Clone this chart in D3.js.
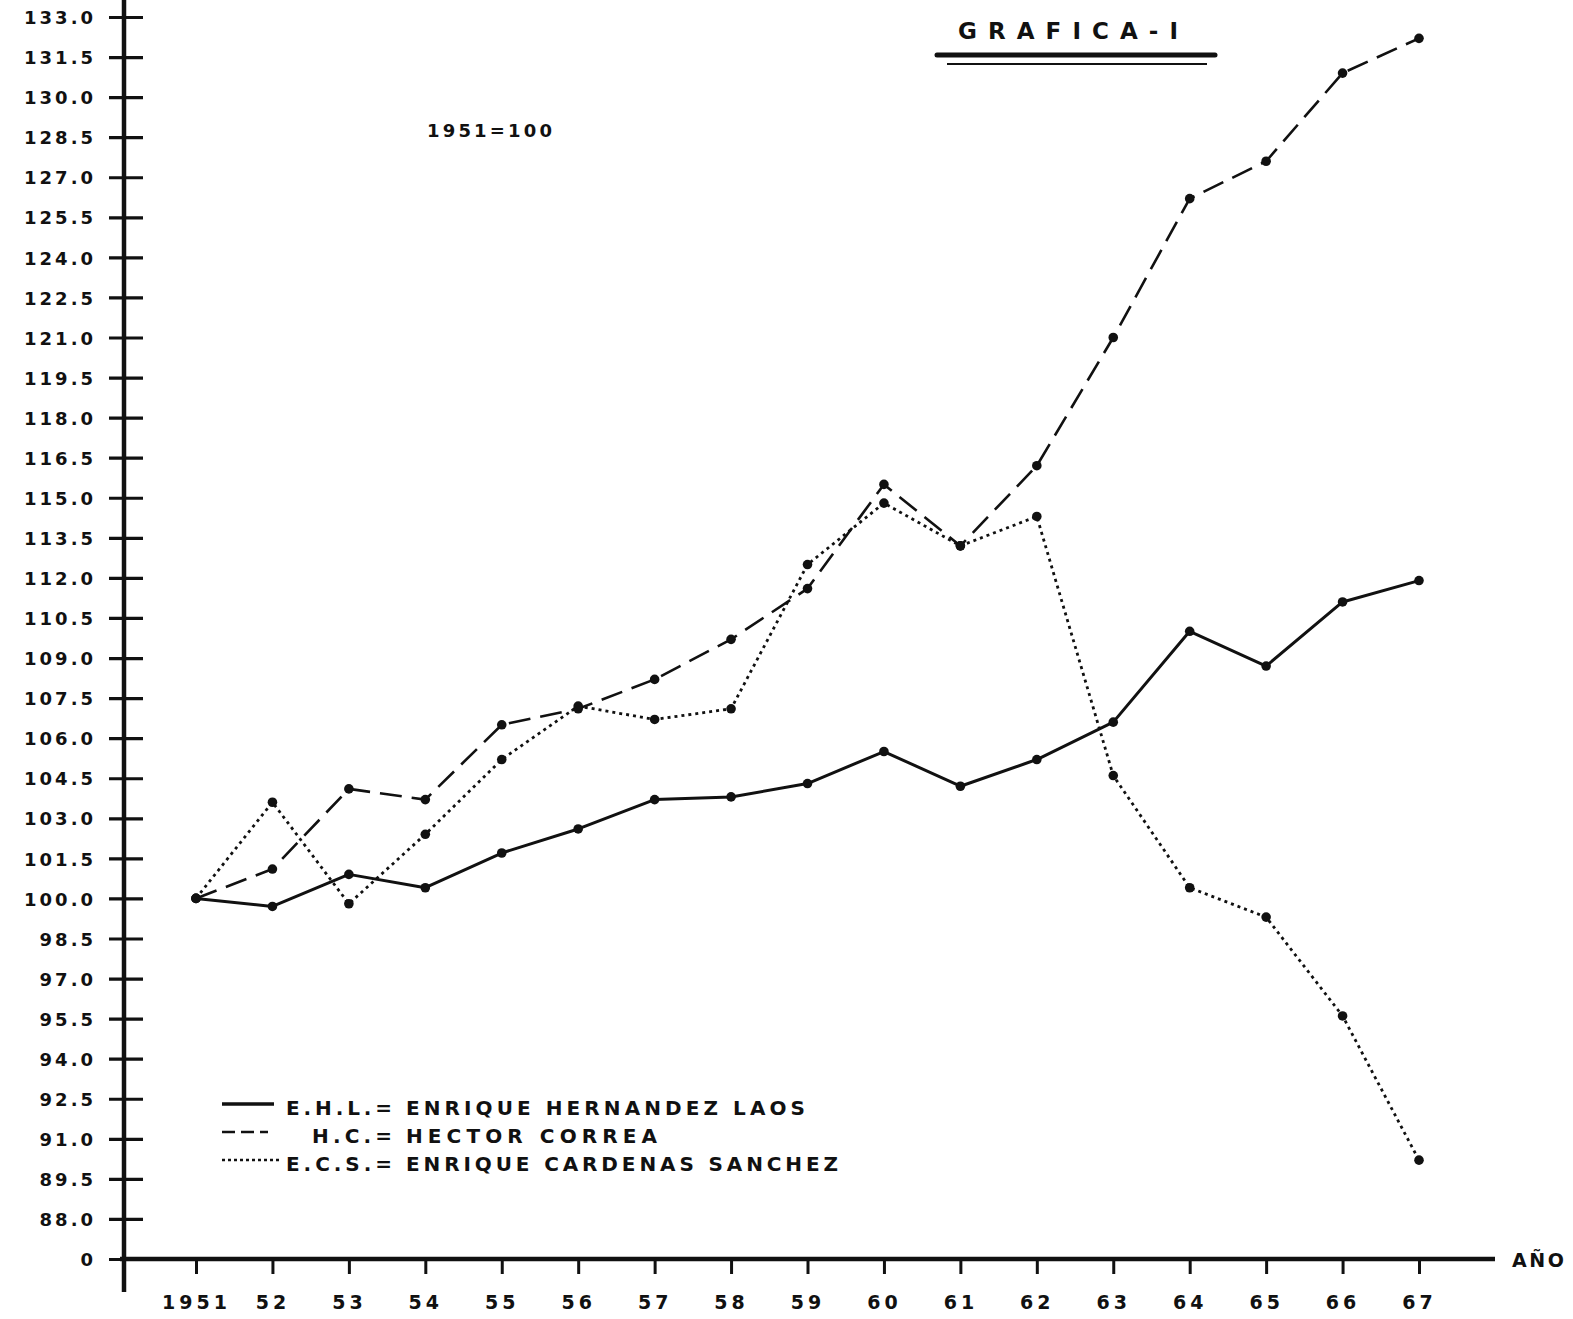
<!DOCTYPE html>
<html>
<head>
<meta charset="utf-8">
<script src="https://cdn.jsdelivr.net/npm/d3@7"></script>
<style>
  html, body { margin: 0; padding: 0; background: #fff; }
  svg { display: block; }
  text { font-family: "DejaVu Sans", "Liberation Sans", Arial, sans-serif; font-weight: bold; fill: #111; }
</style>
</head>
<body>
<svg id="chart" width="1573" height="1319"></svg>
<script>
// ---- data ----
const years = [1951,1952,1953,1954,1955,1956,1957,1958,1959,1960,1961,1962,1963,1964,1965,1966,1967];
const yearLabels = ["1951","52","53","54","55","56","57","58","59","60","61","62","63","64","65","66","67"];
const ehl = [100.0, 99.7,100.9,100.4,101.7,102.6,103.7,103.8,104.3,105.5,104.2,105.2,106.6,110.0,108.7,111.1,111.9];
const hc  = [100.0,101.1,104.1,103.7,106.5,107.1,108.2,109.7,111.6,115.5,113.2,116.2,121.0,126.2,127.6,130.9,132.2];
const ecs = [100.0,103.6, 99.8,102.4,105.2,107.2,106.7,107.1,112.5,114.8,113.2,114.3,104.6,100.4, 99.3, 95.6, 90.2];
// y tick values: 88.0 .. 133.0 by 1.5; the bottom position (86.5) is the broken-axis "0"
const yTickValues = d3.range(32).map(i => 86.5 + 1.5 * i);
const yTickLabels = yTickValues.map(v => v === 86.5 ? "0" : v.toFixed(1));
const legendCodes = ["E.H.L.=", "H.C.=", "E.C.S.="];
const legendNames = ["ENRIQUE HERNANDEZ LAOS", "HECTOR CORREA", "ENRIQUE CARDENAS SANCHEZ"];

// ---- layout ----
const svg = d3.select("#chart");
const ink = "#111";
const FONT = "'DejaVu Sans', 'Liberation Sans', Arial, sans-serif";
const x = d3.scaleLinear().domain([1951, 1967]).range([196, 1419]);
const y = d3.scaleLinear().domain([86.5, 133]).range([1259, 17]);
const axisX = 124;      // y axis position
const axisY = y(86.5);  // x axis position

// y axis
const yAxis = d3.axisLeft(y).tickValues(yTickValues)
  .tickFormat((d, i) => yTickLabels[i]).tickSize(0).tickPadding(0);
const gy = svg.append("g").attr("transform", `translate(${axisX},0)`).call(yAxis);
gy.select(".domain").remove();
gy.selectAll(".tick text")
  .attr("x", -28).attr("dy", "0.37em")
  .style("font-size", "18px").style("letter-spacing", "3px")
  .style("font-family", FONT).style("font-weight", "bold")
  .attr("fill", ink);
gy.selectAll(".tick").append("line")
  .attr("x1", -15).attr("x2", 19).attr("y1", 0).attr("y2", 0)
  .attr("stroke", ink).attr("stroke-width", 3.2);
svg.append("line").attr("x1", axisX).attr("x2", axisX).attr("y1", 0).attr("y2", 1292)
  .attr("stroke", ink).attr("stroke-width", 4.5);

// x axis
const xAxis = d3.axisBottom(x).tickValues(years)
  .tickFormat((d, i) => yearLabels[i]).tickSize(15).tickPadding(22);
const gx = svg.append("g").attr("transform", `translate(0,${axisY})`).call(xAxis);
gx.select(".domain").remove();
gx.selectAll(".tick line").attr("stroke", ink).attr("stroke-width", 3);
gx.selectAll(".tick text")
  .style("font-size", "19px").style("letter-spacing", "4px")
  .style("font-family", FONT).style("font-weight", "bold")
  .attr("fill", ink);
svg.append("line").attr("x1", axisX - 4).attr("x2", 1495).attr("y1", axisY).attr("y2", axisY)
  .attr("stroke", ink).attr("stroke-width", 4.5);
svg.append("text").attr("x", 1512).attr("y", axisY + 8).text("AÑO")
  .attr("textLength", 52).attr("lengthAdjust", "spacing")
  .style("font-size", "19px");

// series
const series = [
  { vals: ehl, dash: null, w: 3 },
  { vals: hc,  dash: "22,10", w: 2.6 },
  { vals: ecs, dash: "3,4", w: 2.8 }
];
const line = d3.line().x((d, i) => x(years[i])).y(d => y(d));
series.forEach(s => {
  svg.append("path").datum(s.vals).attr("d", line)
    .attr("fill", "none").attr("stroke", ink).attr("stroke-width", s.w)
    .attr("stroke-dasharray", s.dash).attr("stroke-linejoin", "round");
});
series.forEach(s => {
  svg.append("g").selectAll("circle").data(s.vals).join("circle")
    .attr("cx", (d, i) => x(years[i])).attr("cy", d => y(d)).attr("r", 4.8)
    .attr("fill", ink);
});

// title
svg.append("text").attr("x", 958).attr("y", 39).text("GRAFICA-I")
  .attr("textLength", 220).attr("lengthAdjust", "spacing")
  .style("font-size", "23px");
svg.append("line").attr("x1", 937).attr("x2", 1215).attr("y1", 55).attr("y2", 55)
  .attr("stroke", ink).attr("stroke-width", 5).attr("stroke-linecap", "round");
svg.append("line").attr("x1", 947).attr("x2", 1207).attr("y1", 64).attr("y2", 64)
  .attr("stroke", ink).attr("stroke-width", 2);

svg.append("text").attr("x", 427).attr("y", 137).text("1951=100")
  .attr("textLength", 125).attr("lengthAdjust", "spacing")
  .style("font-size", "18px");

// legend
const legY = [1107, 1135, 1163];
const codeX = [286, 312, 286];
const nameEnd = [805, 657, 838];
const sampleDash = [null, "13,6", "3,3"];
const sampleEnd = [274, 268, 282];
legendNames.forEach((n, i) => {
  svg.append("line").attr("x1", 222).attr("x2", sampleEnd[i]).attr("y1", legY[i] - 3).attr("y2", legY[i] - 3)
    .attr("stroke", ink).attr("stroke-width", i === 0 ? 3.5 : 2.6).attr("stroke-dasharray", sampleDash[i]);
  svg.append("text").attr("x", codeX[i]).attr("y", legY[i] + 8).text(legendCodes[i])
    .attr("textLength", 400 - codeX[i] - 8).attr("lengthAdjust", "spacing")
    .style("font-size", "20px");
  svg.append("text").attr("x", 406).attr("y", legY[i] + 8).text(n)
    .attr("textLength", nameEnd[i] - 406).attr("lengthAdjust", "spacing")
    .style("font-size", "20px");
});
</script>
</body>
</html>
